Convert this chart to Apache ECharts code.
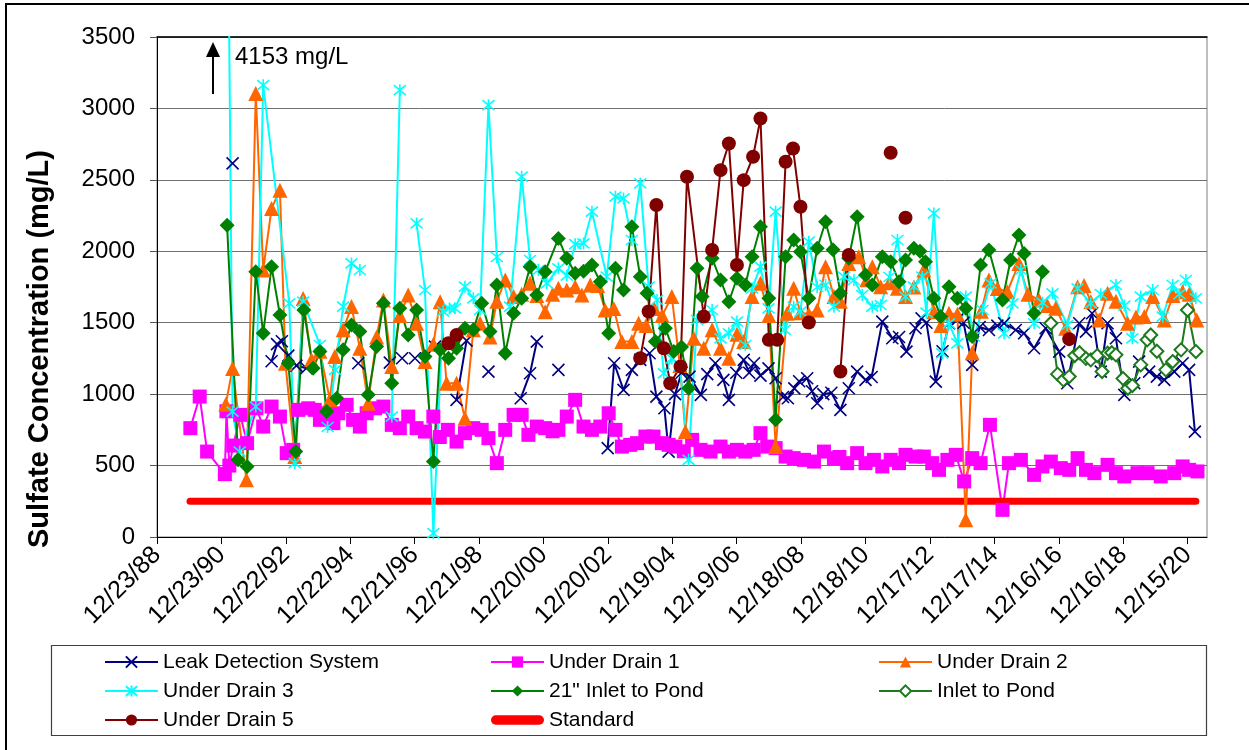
<!DOCTYPE html>
<html>
<head>
<meta charset="utf-8">
<script src="https://cdn.jsdelivr.net/npm/echarts@6/dist/echarts.min.js"></script>
<style>
html,body{margin:0;padding:0;background:#fff;}
#chart{width:1249px;height:750px;}
</style>
</head>
<body>
<div id="chart"></div>
<script>
// ---- DATA (x = decimal year, y = sulfate mg/L); inner arrays = connected segments ----
const seriesNames = ['Leak Detection System','Under Drain 1','Under Drain 2','Under Drain 3','21" Inlet to Pond','Inlet to Pond','Under Drain 5','Standard'];

const leakDetection = [
 [[1991.32,2615]],
 [[1992.53,1230],[1992.70,1350],[1992.85,1370],[1993.05,1270],[1993.30,1200],[1993.61,1181]],
 [[1995.22,1216]],
 [[1996.20,1221]],
 [[1996.58,1251]],
 [[1996.98,1251]],
 [[1997.60,1333]],
 [[1998.27,960],[1998.58,1375]],
 [[1999.26,1158]],
 [[2000.26,971],[2000.55,1146],[2000.76,1368]],
 [[2001.43,1170]],
 [[2002.96,622],[2003.16,1216],[2003.45,1030],[2003.71,1170],[2003.97,1240],[2004.26,1286],[2004.47,983],[2004.72,901],[2004.85,598],[2005.05,1000],[2005.25,1150],[2005.50,1123],[2005.85,995],[2006.05,1140],[2006.30,1216],[2006.55,1100],[2006.72,960],[2006.95,1150],[2007.18,1240],[2007.35,1150],[2007.50,1216],[2007.70,1130],[2007.95,1180],[2008.17,1111],[2008.40,980],[2008.55,971],[2008.75,1040],[2008.90,1090],[2009.15,1111],[2009.30,1020],[2009.46,936],[2009.65,1000],[2009.90,1010],[2010.18,890],[2010.44,1041],[2010.70,1158],[2010.96,1100],[2011.15,1120],[2011.48,1508],[2011.79,1391],[2012.00,1400],[2012.23,1298],[2012.51,1461],[2012.70,1530],[2012.85,1500],[2013.14,1088],[2013.35,1300],[2013.55,1496],[2013.80,1520],[2014.00,1500],[2014.27,1205],[2014.50,1470],[2014.79,1449],[2015.05,1480],[2015.26,1496],[2015.62,1449],[2015.88,1426],[2016.19,1321],[2016.55,1461],[2016.97,1298],[2017.22,1076],[2017.59,1496],[2017.80,1438],[2017.99,1566],[2018.26,1158],[2018.47,1496],[2018.73,1391],[2018.99,995],[2019.30,1076],[2019.45,1228],[2019.76,1158],[2020.00,1123],[2020.23,1100],[2020.54,1158],[2020.80,1216],[2021.00,1170],[2021.18,738]]
];

const underDrain1 = [[
 [1990.01,762],[1990.30,983],[1990.53,598],[1991.08,440],[1991.13,880],[1991.22,500],[1991.34,640],[1991.56,855],[1991.77,657],[1992.06,901],[1992.27,773],[1992.53,913],[1992.79,843],[1993.00,587],[1993.20,610],[1993.36,890],[1993.67,901],[1993.87,890],[1994.03,820],[1994.24,866],[1994.45,797],[1994.60,866],[1994.86,925],[1995.06,820],[1995.27,773],[1995.48,866],[1995.74,901],[1996.00,913],[1996.26,785],[1996.51,762],[1996.77,843],[1997.03,762],[1997.29,738],[1997.55,843],[1997.75,700],[1998.00,750],[1998.27,668],[1998.53,727],[1998.79,762],[1999.05,750],[1999.26,692],[1999.52,517],[1999.78,750],[2000.04,855],[2000.29,855],[2000.50,715],[2000.76,773],[2001.02,762],[2001.25,740],[2001.43,750],[2001.69,843],[2001.95,960],[2002.21,773],[2002.47,750],[2002.73,773],[2002.99,866],[2003.20,750],[2003.40,633],[2003.66,645],[2003.87,657],[2004.13,703],[2004.38,703],[2004.64,657],[2004.85,645],[2005.06,633],[2005.32,600],[2005.58,680],[2005.84,610],[2006.15,598],[2006.46,633],[2006.72,598],[2006.97,610],[2007.23,598],[2007.49,610],[2007.70,727],[2007.91,633],[2008.17,622],[2008.48,563],[2008.73,552],[2009.05,540],[2009.36,528],[2009.67,598],[2009.98,552],[2010.15,560],[2010.39,517],[2010.70,587],[2010.96,517],[2011.22,540],[2011.48,494],[2011.74,540],[2012.00,517],[2012.20,575],[2012.51,563],[2012.77,563],[2013.03,517],[2013.24,470],[2013.50,540],[2013.76,575],[2014.02,389],[2014.27,552],[2014.53,517],[2014.82,785],[2015.21,190],[2015.41,517],[2015.78,540],[2016.19,435],[2016.45,494],[2016.71,528],[2017.02,482],[2017.28,470],[2017.54,552],[2017.80,470],[2018.06,447],[2018.47,505],[2018.73,447],[2018.99,424],[2019.40,447],[2019.71,447],[2020.12,424],[2020.54,447],[2020.80,494],[2021.00,470],[2021.26,459]
]];

const underDrain2 = [[
 [1991.11,930],[1991.32,1180],[1991.75,400],[1992.04,3104],[1992.27,1869],[1992.53,2300],[1992.79,2428],[1992.96,1216],[1993.25,563],[1993.51,1670],[1993.77,1240],[1994.03,1300],[1994.34,960],[1994.49,1263],[1994.75,1450],[1995.01,1613],[1995.27,1321],[1995.53,937],[1995.79,1400],[1996.00,1659],[1996.26,1193],[1996.51,1550],[1996.77,1694],[1997.03,1496],[1997.29,1228],[1997.55,1350],[1997.76,1647],[1997.96,1076],[1998.27,1076],[1998.53,832],[1998.79,1450],[1999.00,1496],[1999.31,1400],[1999.52,1650],[1999.78,1799],[2000.04,1683],[2000.29,1700],[2000.55,1776],[2000.76,1690],[2001.02,1577],[2001.25,1700],[2001.43,1741],[2001.69,1729],[2001.95,1752],[2002.16,1694],[2002.42,1764],[2002.65,1760],[2002.88,1589],[2003.15,1600],[2003.40,1368],[2003.71,1368],[2003.92,1496],[2004.15,1480],[2004.40,1600],[2004.65,1550],[2004.95,1683],[2005.20,1200],[2005.37,738],[2005.63,1391],[2005.94,1321],[2006.20,1450],[2006.46,1321],[2006.72,1251],[2006.97,1420],[2007.18,1368],[2007.44,1683],[2007.70,1776],[2007.96,1550],[2008.17,633],[2008.53,1566],[2008.73,1741],[2008.94,1570],[2009.20,1560],[2009.46,1589],[2009.72,1892],[2009.98,1683],[2010.18,1650],[2010.44,1915],[2010.75,1962],[2011.00,1800],[2011.17,1892],[2011.43,1752],[2011.70,1780],[2011.95,1741],[2012.20,1683],[2012.46,1750],[2012.77,1869],[2013.08,1577],[2013.30,1480],[2013.55,1566],[2013.81,1560],[2014.07,121],[2014.27,1290],[2014.55,1580],[2014.79,1799],[2015.05,1740],[2015.36,1717],[2015.72,1915],[2016.00,1700],[2016.34,1659],[2016.60,1620],[2016.86,1601],[2017.17,1461],[2017.54,1752],[2017.74,1760],[2017.95,1647],[2018.21,1519],[2018.47,1706],[2018.73,1650],[2019.09,1496],[2019.35,1540],[2019.61,1543],[2019.87,1683],[2020.23,1519],[2020.50,1690],[2020.80,1717],[2021.00,1700],[2021.24,1519]
]];

const underDrain3 = [
 [[1991.19,4153],[1991.32,878],[1991.54,598],[1992.04,913],[1992.27,3163],[1993.08,1636],[1993.25,517],[1993.51,1647],[1994.03,1344],[1994.27,770],[1994.50,1170],[1994.75,1612],[1995.01,1915],[1995.27,1869]],
 [[1996.26,843],[1996.51,3128]],
 [[1997.03,2195],[1997.29,1729],[1997.55,27],[1997.85,1580],[1998.05,1600],[1998.22,1601],[1998.53,1752],[1998.79,1671],[1999.00,1590],[1999.26,3023],[1999.52,1960],[1999.93,1612],[2000.29,2522],[2000.55,1939],[2000.81,1869],[2001.07,1776],[2001.43,1881],[2001.69,1830],[2001.95,2050],[2002.21,2055],[2002.47,2277],[2002.93,1822],[2003.20,2382],[2003.45,2370],[2003.71,2079],[2003.97,2475],[2004.23,1752],[2004.49,1659],[2004.70,1146],[2004.95,1250],[2005.20,1200],[2005.47,540],[2005.73,1519],[2005.95,1550],[2006.20,1589],[2006.46,1391],[2006.72,1426],[2006.97,1508],[2007.23,1344],[2007.44,1741],[2007.70,1892],[2007.95,1600],[2008.17,2277],[2008.45,1450],[2008.73,1612],[2008.94,1577],[2009.20,2067],[2009.46,1750],[2009.72,1764],[2009.98,1612],[2010.29,1822],[2010.60,1799],[2010.86,1694],[2011.17,1612],[2011.43,1624],[2011.70,1820],[2011.95,2079],[2012.20,1683],[2012.46,1752],[2012.72,1822],[2012.85,1570],[2013.08,2265],[2013.34,1286],[2013.55,1496],[2013.81,1356],[2014.07,1683],[2014.33,1403],[2014.59,1589],[2014.84,1776],[2015.26,1426],[2015.52,1636],[2015.78,1869],[2016.19,1496],[2016.45,1640],[2016.76,1706],[2017.22,1484],[2017.54,1741],[2017.95,1636],[2018.26,1700],[2018.73,1764],[2018.99,1620],[2019.24,1391],[2019.50,1683],[2019.87,1729],[2020.18,1543],[2020.49,1764],[2020.70,1700],[2020.90,1799],[2021.21,1671]]
];

const inlet21 = [[
 [1991.15,2183],[1991.49,540],[1991.77,494],[1992.04,1857],[1992.27,1426],[1992.53,1892],[1992.79,1554],[1993.05,1216],[1993.28,598],[1993.53,1589],[1993.82,1181],[1994.03,1298],[1994.24,878],[1994.55,971],[1994.75,1310],[1995.01,1484],[1995.27,1438],[1995.53,995],[1995.79,1333],[1996.00,1636],[1996.26,1076],[1996.51,1601],[1996.77,1414],[1997.03,1589],[1997.29,1263],[1997.55,528],[1997.76,1310],[1998.02,1251],[1998.27,1321],[1998.53,1461],[1998.79,1450],[1999.05,1636],[1999.31,1438],[1999.52,1764],[1999.78,1286],[2000.04,1566],[2000.29,1671],[2000.55,1892],[2000.76,1694],[2001.02,1857],[2001.43,2090],[2001.69,1951],[2001.95,1846],[2002.21,1860],[2002.47,1904],[2002.73,1787],[2002.99,1426],[2003.20,1881],[2003.45,1729],[2003.71,2172],[2003.97,1822],[2004.18,1706],[2004.44,1368],[2004.75,1461],[2005.01,1298],[2005.25,1330],[2005.47,1041],[2005.73,1881],[2005.89,1683],[2006.20,1951],[2006.46,1799],[2006.72,1647],[2006.97,1811],[2007.23,1764],[2007.44,1962],[2007.70,2172],[2007.96,1671],[2008.17,820],[2008.48,1962],[2008.73,2079],[2008.94,1997],[2009.20,1671],[2009.46,2021],[2009.72,2207],[2009.95,2010],[2010.18,1706],[2010.44,1951],[2010.70,2242],[2010.96,1834],[2011.17,1764],[2011.48,1962],[2011.74,1927],[2012.00,1787],[2012.20,1939],[2012.46,2021],[2012.65,2000],[2012.82,1927],[2013.08,1671],[2013.29,1543],[2013.55,1752],[2013.81,1671],[2014.07,1601],[2014.27,1403],[2014.53,1904],[2014.79,2009],[2015.21,1659],[2015.46,1939],[2015.72,2114],[2015.88,1985],[2016.19,1566],[2016.45,1857]
]];

const inletPond = [[
 [2016.71,1496],[2016.92,1140],[2017.10,1100],[2017.28,1123],[2017.45,1270],[2017.60,1290],[2017.80,1250],[2017.95,1240],[2018.15,1270],[2018.30,1158],[2018.47,1286],[2018.60,1290],[2018.73,1275],[2018.95,1110],[2019.10,1041],[2019.24,1060],[2019.50,1205],[2019.70,1380],[2019.81,1414],[2020.00,1300],[2020.28,1170],[2020.49,1228],[2020.75,1310],[2020.95,1589],[2021.21,1298]
]];

const underDrain5 = [
 [[1998.02,1356],[1998.27,1414]],
 [[2003.97,1251],[2004.23,1578],[2004.47,2324],[2004.70,1321],[2004.90,1076],[2005.22,1193],[2005.42,2522],[2005.94,1543],[2006.20,2009],[2006.46,2568],[2006.72,2755],[2006.97,1904],[2007.18,2498],[2007.47,2662],[2007.70,2929],[2007.96,1380],[2008.22,1380],[2008.48,2627],[2008.71,2720],[2008.94,2312],[2009.20,1501]],
 [[2010.18,1158],[2010.44,1974]],
 [[2011.74,2690]],
 [[2012.20,2235]],
 [[2017.28,1385]]
];

const standard = [[[1990.00,250],[2021.21,250]]];

const offLabel = '4153 mg/L';

// ---- helpers ----
const BASE = Date.UTC(1988,11,23);
const BASE_YEAR = 1988.975;
const toDays = yr => (yr - BASE_YEAR) * 365.25;
function flat(segs){
  const out=[];
  segs.forEach((s,i)=>{
    if(i>0) out.push([toDays(s[0][0]) - 1, null]);
    s.forEach(p=>out.push([toDays(p[0]), p[1]]));
  });
  return out;
}
const xTicks = []; for(let k=0;k<=16;k++) xTicks.push(k*730);
function fmtDate(v){
  const d = new Date(BASE + Math.round(v)*86400000);
  const mm = String(d.getUTCMonth()+1).padStart(2,'0');
  const dd = String(d.getUTCDate()).padStart(2,'0');
  const yy = String(d.getUTCFullYear()%100).padStart(2,'0');
  return mm+'/'+dd+'/'+yy;
}

const FONT = '"Liberation Sans", Arial, sans-serif';
const X_PATH = 'path://M0,0L10,10M10,0L0,10';
const AST_PATH = 'path://M0,0L10,10M10,0L0,10M5,-1L5,11';
const BAR_PATH = 'path://M4.5,0H45.5A4.5,4.5,0,0,1,45.5,9H4.5A4.5,4.5,0,0,1,4.5,0Z';

function lineSeries(name, data, color, symbol, size, extra){
  return Object.assign({
    name, type:'line', data: flat(data), symbol, symbolSize:size,
    connectNulls:false, clip:true,
    lineStyle:{color, width:2},
    itemStyle:{color},
    emphasis:{disabled:true}
  }, extra||{});
}

const series = [
  lineSeries(seriesNames[0], leakDetection, '#000080', X_PATH, 12,
    {itemStyle:{color:'#000080', borderColor:'#000080', borderWidth:1.6}}),
  lineSeries(seriesNames[1], underDrain1, '#FF00FF', 'rect', 14),
  lineSeries(seriesNames[7], standard, '#FF0000', 'none', 0,
    {lineStyle:{color:'#FF0000', width:7, cap:'round'}, showSymbol:false}),
  lineSeries(seriesNames[2], underDrain2, '#FF6600', 'triangle', 15),
  lineSeries(seriesNames[3], underDrain3, '#00FFFF', AST_PATH, 12,
    {itemStyle:{color:'#00FFFF', borderColor:'#00FFFF', borderWidth:1.6}}),
  lineSeries(seriesNames[4], inlet21, '#008000', 'diamond', 15),
  lineSeries(seriesNames[5], inletPond, '#1E7A1E', 'emptyDiamond', 13,
    {itemStyle:{color:'#1E7A1E', borderColor:'#1E7A1E', borderWidth:1.4}}),
  lineSeries(seriesNames[6], underDrain5, '#800000', 'circle', 14)
];

const legendCommon = {
  orient:'vertical', top:645, itemWidth:53, itemHeight:14, itemGap:5,
  textStyle:{fontFamily:FONT, fontSize:21, color:'#000', lineHeight:24},
  selectedMode:false, inactiveColor:'#000'
};

const chart = echarts.init(document.getElementById('chart'), null, {renderer:'canvas'});
chart.setOption({
  animation:false,
  backgroundColor:'#fff',
  grid:{left:157, top:37, right:42, bottom:213, show:true, borderColor:'#808080', borderWidth:1},
  xAxis:[{
    type:'value', min:0, max:11900,
    axisLine:{show:true, lineStyle:{color:'#000', width:1}},
    axisTick:{show:true, length:7, inside:false, customValues:xTicks, lineStyle:{color:'#000'}},
    axisLabel:{rotate:45, margin:14, fontFamily:FONT, fontSize:25, color:'#000', customValues:xTicks, formatter:fmtDate},
    splitLine:{show:false}
  },{
    type:'value', min:0, max:11900, position:'top',
    axisLine:{show:true, onZero:false, lineStyle:{color:'#000', width:1.5}},
    axisTick:{show:false}, axisLabel:{show:false}, splitLine:{show:false}
  }],
  yAxis:{
    type:'value', min:0, max:3500, interval:500,
    axisLine:{show:true, lineStyle:{color:'#000', width:1}},
    axisTick:{show:true, length:7, lineStyle:{color:'#555'}},
    axisLabel:{margin:22, fontFamily:FONT, fontSize:24, color:'#000', formatter: v => String(v)},
    splitLine:{show:true, lineStyle:{color:'#707070', width:1}}
  },
  legend:[
    Object.assign({left:99, data:[seriesNames[0], seriesNames[3], seriesNames[6]]}, legendCommon),
    Object.assign({left:485, data:[seriesNames[1], seriesNames[4], {name:seriesNames[7], icon:BAR_PATH}]}, legendCommon),
    Object.assign({left:873, data:[seriesNames[2], seriesNames[5]]}, legendCommon)
  ],
  series,
  graphic:[
    {type:'rect', silent:true, shape:{x:6, y:4, width:1300, height:800}, style:{fill:null, stroke:'#000', lineWidth:2}},
    {type:'rect', silent:true, shape:{x:51.5, y:645.5, width:1155, height:90}, style:{fill:null, stroke:'#404040', lineWidth:1.2}},
    {type:'text', silent:true, x:40, y:349, rotation:Math.PI/2,
      style:{text:'Sulfate Concentration (mg/L)', font:'bold 29px '+FONT, fill:'#000', align:'center', verticalAlign:'middle'}},
    {type:'line', silent:true, shape:{x1:213, y1:94, x2:213, y2:54}, style:{stroke:'#000', lineWidth:2}},
    {type:'polygon', silent:true, shape:{points:[[206,57],[220,57],[213,42]]}, style:{fill:'#000'}},
    {type:'text', silent:true, x:235, y:57, style:{text:offLabel, font:'24px '+FONT, fill:'#000', align:'left', verticalAlign:'middle'}}
  ]
});
</script>
</body>
</html>
